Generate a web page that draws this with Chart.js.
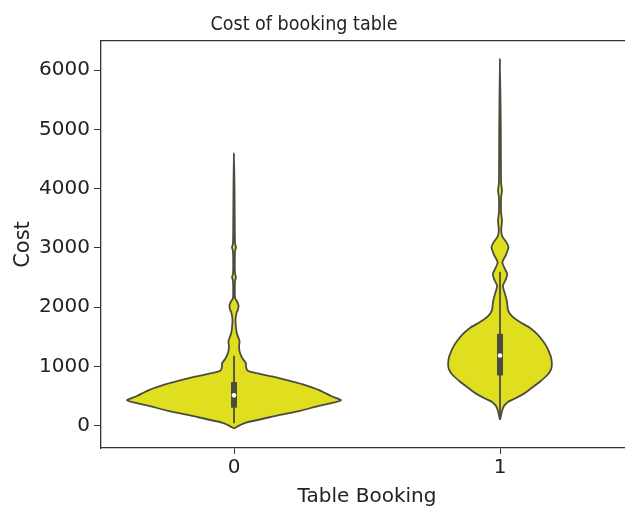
<!DOCTYPE html>
<html>
<head>
<meta charset="utf-8">
<script src="https://cdn.jsdelivr.net/npm/chart.js@4/dist/chart.umd.min.js"></script>
<style>
  html, body { margin: 0; padding: 0; background: #fff; overflow: hidden; }
  #wrap { width: 625px; height: 513px; overflow: hidden; }
</style>
</head>
<body>
<div id="wrap"><canvas id="violin" width="640" height="513"></canvas></div>
<script>
const categories = ['0', '1'];
const yTicks = [0, 1000, 2000, 3000, 4000, 5000, 6000];

// violin for Table Booking = 0 : cost level and half width (in category units)
const cost0  = [-50, 0, 50, 150, 250, 330, 426, 500, 600, 700, 765, 830, 880, 910, 940, 1000, 1050, 1150, 1250, 1350, 1420, 1480, 1550, 1650, 1780, 1900, 1960, 2030, 2100, 2150, 2300, 2450, 2505, 2560, 2700, 2950, 3010, 3070, 3300, 4000, 4595];
const width0 = [0, 0.019, 0.045, 0.143, 0.248, 0.316, 0.402, 0.365, 0.32, 0.256, 0.203, 0.143, 0.09, 0.06, 0.049, 0.045, 0.045, 0.03, 0.021, 0.019, 0.021, 0.017, 0.011, 0.0075, 0.0056, 0.0094, 0.015, 0.017, 0.011, 0.004, 0.003, 0.004, 0.0075, 0.004, 0.003, 0.004, 0.0075, 0.004, 0.003, 0.002, 0];

// violin for Table Booking = 1
const cost1  = [100, 250, 330, 400, 450, 540, 640, 740, 850, 950, 1050, 1150, 1250, 1350, 1450, 1550, 1650, 1750, 1850, 1950, 2100, 2250, 2365, 2470, 2560, 2650, 2757, 2880, 3010, 3110, 3190, 3300, 3460, 3600, 3850, 3966, 4100, 5000, 6186];
const width1 = [0, 0.008, 0.015, 0.03, 0.053, 0.09, 0.12, 0.15, 0.177, 0.192, 0.195, 0.192, 0.184, 0.173, 0.158, 0.139, 0.113, 0.075, 0.045, 0.03, 0.026, 0.017, 0.011, 0.022, 0.027, 0.018, 0.009, 0.022, 0.032, 0.022, 0.009, 0.0045, 0.0075, 0.004, 0.004, 0.0075, 0.004, 0.003, 0];

// inner box: [q1, median, q3] and whiskers [low, high]
const quart0 = [303, 511, 735];
const whisk0 = [40, 1180];
const quart1 = [848, 1185, 1550];
const whisk1 = [100, 2600];

const FILL = '#dfdf20';
const EDGE = '#4c4c3e';
const AXIS = '#333333';
const FONT = "'DejaVu Sans', sans-serif";

function violinPoints(pos, costs, widths) {
  const right = costs.map((c, i) => ({x: pos + widths[i], y: c}));
  const left = costs.map((c, i) => ({x: pos - widths[i], y: c})).reverse().slice(1);
  return right.concat(left);
}

function violinSet(pos, costs, widths) {
  return {
    data: violinPoints(pos, costs, widths),
    showLine: true, fill: 'shape', tension: 0.2,
    backgroundColor: FILL, borderColor: EDGE, borderWidth: 1.8,
    pointRadius: 0, order: 3
  };
}

function segSet(pos, lo, hi, w) {
  return {
    data: [{x: pos, y: lo}, {x: pos, y: hi}],
    showLine: true, fill: false, borderColor: EDGE, borderWidth: w,
    borderCapStyle: 'butt', pointRadius: 0, order: w > 3 ? 1 : 2
  };
}

const titlePlugin = {
  id: 'offTitle',
  afterDraw(chart) {
    const ctx = chart.ctx;
    ctx.save();
    ctx.font = "19.5px 'DejaVu Sans Condensed', 'DejaVu Sans', sans-serif";
    ctx.fillStyle = '#222';
    ctx.textAlign = 'center';
    ctx.textBaseline = 'alphabetic';
    ctx.fillText('Cost of booking table', 304, 30);
    ctx.restore();
  }
};

new Chart(document.getElementById('violin'), {
  type: 'scatter',
  data: {
    datasets: [
      {data: [{x: 0, y: quart0[1]}, {x: 1, y: quart1[1]}], pointRadius: 2.3, pointBorderWidth: 0,
       pointBackgroundColor: '#ffffff', showLine: false, order: 0},
      segSet(0, quart0[0], quart0[2], 6),
      segSet(1, quart1[0], quart1[2], 6),
      segSet(0, whisk0[0], whisk0[1], 1.8),
      segSet(1, whisk1[0], whisk1[1], 1.8),
      violinSet(0, cost0, width0),
      violinSet(1, cost1, width1)
    ]
  },
  options: {
    responsive: false,
    animation: false,
    layout: {padding: {top: 33, right: 7, left: 0, bottom: 0}},
    plugins: {legend: {display: false}, tooltip: {enabled: false}, title: {display: false}},
    scales: {
      x: {
        type: 'linear', min: -0.5, max: 1.5,
        afterBuildTicks: s => { s.ticks = categories.map((c, i) => ({value: i})); },
        afterFit: s => { s.height = 65; },
        ticks: {callback: v => categories[v], font: {family: FONT, size: 20}, color: '#222', padding: 2},
        grid: {drawOnChartArea: false, drawTicks: true, tickLength: 6, color: AXIS},
        border: {color: AXIS, width: 1.3},
        title: {display: true, text: 'Table Booking', font: {family: FONT, size: 20}, color: '#222', padding: {top: 0, bottom: 4}}
      },
      xTop: {
        type: 'linear', position: 'top', min: -0.5, max: 1.5,
        ticks: {display: false}, grid: {display: false},
        border: {color: AXIS, width: 1.3}
      },
      y: {
        type: 'linear', min: -378, max: 6494,
        afterBuildTicks: s => { s.ticks = yTicks.map(v => ({value: v})); },
        afterFit: s => { s.width = 101; },
        ticks: {callback: v => String(v), font: {family: FONT, size: 20}, color: '#222', padding: 4},
        grid: {drawOnChartArea: false, drawTicks: true, tickLength: 7, color: AXIS},
        border: {color: AXIS, width: 1.3},
        title: {display: true, text: 'Cost', font: {family: FONT, size: 21}, color: '#222', padding: {top: 11, bottom: 0}}
      }
    }
  },
  plugins: [titlePlugin]
});
</script>
</body>
</html>
